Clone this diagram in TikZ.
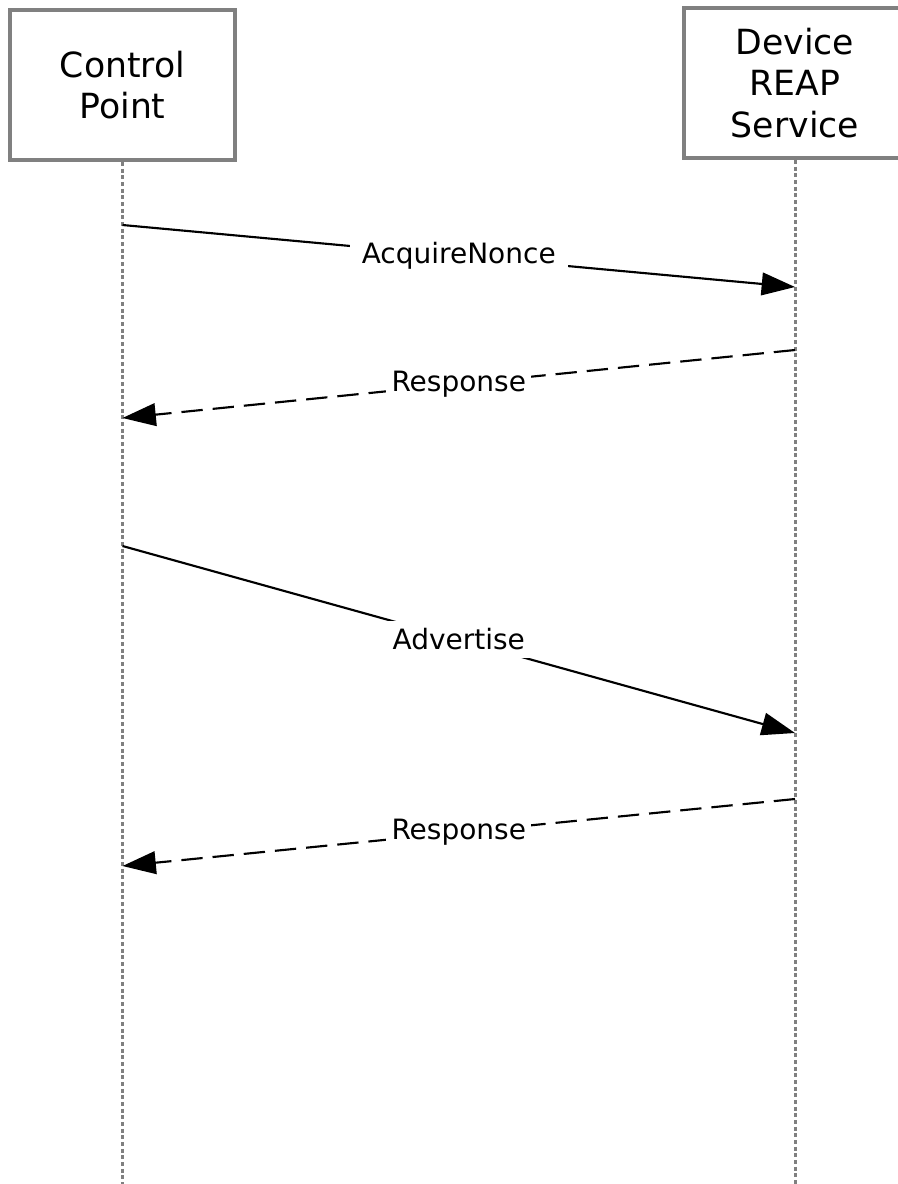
\documentclass[tikz,border=0pt]{standalone}
\usepackage{fontspec}
\setmainfont{DejaVu Sans}
\usetikzlibrary{arrows.meta}
\begin{document}
\begin{tikzpicture}[x=0.75pt,y=-0.75pt,
	actor/.style={draw=gray,line width=3pt,minimum height=112.5pt,align=center,font=\fontsize{26}{31}\selectfont},
	lifeline/.style={gray,line width=2.25pt,dash pattern=on 3pt off 2pt},
	msg/.style={line width=1.6pt,-{Triangle[length=25pt,width=17pt]}},
	reply/.style={msg,dash pattern=on 16pt off 7.5pt},
	lbl/.style={fill=white,inner xsep=4pt,inner ysep=6pt,font=\fontsize{21}{25}\selectfont}]
			\useasboundingbox (0,0) rectangle (897,1184);
			\node[actor,minimum width=168.75pt] (cp) at (122.5,85) {Control\\Point};
			\node[actor,minimum width=166.5pt] (dev) at (795,83) {Device\\REAP\\Service};
			\coordinate (cpend) at (122.5,1184);
			\coordinate (devend) at (795,1184);
			\draw[lifeline] (cp.south) -- (cpend);
			\draw[lifeline] (dev.south) -- (devend);
			% messages
			\coordinate (c1) at (122.5,225);
			\coordinate (d1) at (795,287);
			\coordinate (d2) at (795,350);
			\coordinate (c2) at (122.5,418);
			\coordinate (c3) at (122.5,546);
			\coordinate (d3) at (795,733);
			\coordinate (d4) at (795,799);
			\coordinate (c4) at (122.5,866);
			\draw[msg] (c1) -- node[lbl,inner xsep=9pt]{AcquireNonce} (d1);
			\draw[reply] (d2) -- node[lbl]{Response} (c2);
			\draw[msg] (c3) -- node[lbl]{Advertise} (d3);
			\draw[reply] (d4) -- node[lbl]{Response} (c4);
\end{tikzpicture}
\end{document}
